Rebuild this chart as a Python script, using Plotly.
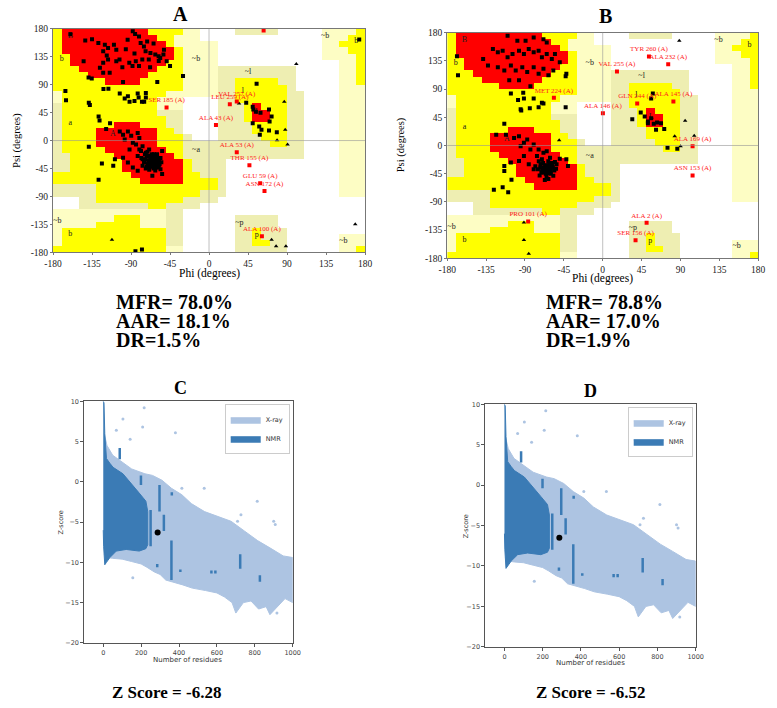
import plotly.graph_objects as go

W, H = 777, 708
def px(x): return x / W
def py(y): return 1 - y / H

# ---------------- Ramachandran background (10 deg cells) ----------------
# rows: psi 180 -> -180 ; columns: phi -180 -> 180
# '.' disallowed, 'P' generous (pale), 'K' generous (beige), 'Y' allowed, 'R' core
region_left = [
    "YRRRRRRRRRRYYYYPP.", "YRRRRRRRRRRRYYPPP.", "YRRRRRRRRRRRRYPPPP", "YRRRRRRRRRRRRRYPPP",
    "YYRRRRRRRRRRRRYPPP", "YYRRRRRRRRRRRYYPPP", "YYYRRRRRRRRRYYYPPP", "YYYYRRRRRRRYYYYPPP",
    "YYYYYYRRRRYYYYYPPP", "YYYYYYYYYYYYYYYPPP", "PYYYYYYYYYYYYPPPPP", "PYYYYYYYYYYYPPP...",
    "KYYYYYYYYYYYPPP...", "KYYYYYYYYYYYKKK...", "KYYYYYYYYYYYYKK...", "KYYYYYYRRRYYYKK...",
    "KYYYYRRRRRRRYYK...", "KYYYYRRRRRRRYYYK..", "KYYYYRRRRRRRYYYKKK", "KYYYYYRRRRRRRYYKKK",
    "KKYYYYYRRRRRRRYKKK", "KKYYYYYYRRRRRRRYKK", "KKYYYYYYRRRRRRRYKK", "YYYYYYYYYRRRRRRYYK",
    "YYYYYYYYYYRRRRRYYY", "KKKKKYYYYYYYYYYYYY", "KKKKKYYYYYYYYYYYYK", "...KKYYYYYYYYYYKKK",
    "...KKKKKKKKYYKKKK.", "PPPPPPPPPPPPPKK...", "PPPPPPPYYYPPPKK...", "PPPPPYYYYYPPPKK...",
    "PYYYYYYYYYYYYKK...", "PYYYYYYYYYYYYKK...", "PYYYYYYYYYYYYKK...", "YYYYYYYYYYYYYPP...",
]
region_right = [
    "...KKKKK.....PPPPY", ".............PPPYY", "P............PPYYY", "P............PPPYY",
    "P............PPPPY", "P..............PPY", "PKKKKKKKKK.....PPY", "PKKKKKKKKK.....PPY",
    "PKKYYYYYKK.....PPY", "PKKYYYYYYK.....PPP", "PKKYYYYYYKK....PPP", ".KKYYYYYYKK....PPP",
    ".KKKYRYYYKK....PPP", ".KKKYRRYYKK....PPP", ".KKKYRRYYKK....PPP", ".KKKKYYYYKK....PPP",
    ".KKKKYYYYKK....PPP", ".KKKKKYYYKK....PPP", "KKKKKKKYYKK....PPP", "KKKKKKKKKKK....PPP",
    "KKKKKKKKKKK....PPP", "KK.............PPP", "KK.............PPP", "KK.............PPP",
    "YK.............PPP", "YK.............PPP", "KK.............PPP", "K.................",
    "..................", "..................", "...KKKKK..........", "...KKKKK..........",
    "...KKYKKK.........", "...KKYKKK......PPP", "...KKYYKK......PPP", "...KKKKKK......PPY",
]
region_code = {'.': 0, 'P': 1, 'K': 2, 'Y': 3, 'R': 4}
phi_centers = [-175 + 10 * i for i in range(36)]
psi_centers = [175 - 10 * i for i in range(36)]
region_z = []
for l, r in zip(region_left, region_right):
    row = (l + r + "." * 36)[:36]
    region_z.append([region_code[c] for c in row])

region_label_text = ["B", "b", "a", "A", "~b", "~l", "l", "L", "~a", "~p", "p", "~b", "b", "~b", "~b", "b"]
region_label_phi = [-160, -170, -160, -111, -15, 45, 39, 56, -15, 35, 55, -175, -160, 155, 134, 170]
region_label_psi = [169, 131, 29, 10, 131, 110, 80, 46, -16, -132, -152, -130, -150, -161, 169, 160]

ram_ticks = [-180, -135, -90, -45, 0, 45, 90, 135, 180]
ram_ticktext = ["-180", "-135", "-90", "-45", "0", "45", "90", "135", "180"]

# ---------------- Panel A residues ----------------
phiA = [-142.8, -127.7, -120.2, -116.5, -122.1, -109.7, -107, -93.9, -85.3, -80.8, -78.9, -75.1, -71.4, -73.2,
        -67.6, -62, -58.2, -52.6, -69.5, -77, -84.5, -88.3, -80.8, -92, -103.3, -107, -116.5, -122.1, -125.9,
        -144.7, -114.6, -122.1, -139, -135.3, -56.3, -48.8, -30, -45, -135, -88, -64, -96, -86, -100, -118,
        -52, -58, -68, -160,
        -165.7, -165, -138.7, -137.5, -121.8, -116.1, -103, -97.3, -93.6, -91.7, -86, -82.3, -81.2, -77.4,
        -72.9, -72.9, -74.8, -99.2, -59.7,
        -127.4, -126.3, -114.2, -118.7, -138.7, -123.6, -127.4, -110.5, -108.6, -103, -99.2, -93.6, -89.8,
        -82.3, -97.3, -87.9, -80.4, -76.7, -72.9, -69.1, -72.9, -67.3, -65.4, -61.6, -63.5, -59.7, -57.9, -56,
        -69.1, -76.7, -82.3, -87.9, -93.6, -99.2, -54.1, -65.4, -54.1, -80.4, -91.7, -82.3, -76.7, -71, -63.5,
        -59.7, -67.3, -61.6, -57.9, -69.1, -78.5, -84.2, -62, -64, -66, -60, -63, -68, -58, -70, -64, -61, -67,
        -59, -72, -65,
        -75, -72, -70, -68, -66, -64, -62, -60, -58, -57, -55, -73, -69, -62, -78, -74, -66, -71, -60, -56,
        54.9, 42.9, 50.4, 51.1, 54.1, 59.4, 69.2, 72.2, 69.9, 50.4, 57.9, 60.5, 69.2, 78.2, 58.6,
        173.3, -84.9, -77.4]
psiA = [161, 156.8, 154.1, 148.8, 143.5, 154, 146, 162, 171.5, 167.3, 156.8, 151.5, 159.4, 143.5,
        140.9, 138.3, 135.6, 138.3, 130.3, 130.3, 127.7, 119.8, 119.8, 125.1, 130.3, 127.7, 130.3, 125.1, 117.1,
        127.7, 109.2, 109.2, 101.3, 99.7, 133, 127.7, 104, 119.8, 163, 176, 156, 147, 140, 118, 137,
        146, 128, 118, 171,
        79.7, 64.9, 60.7, 57, 82.9, 83.4, 75.5, 67.5, 71.2, 62.3, 63.8, 75.5, 69.1, 62.3,
        76.5, 69.1, 62.3, 94, 94,
        38.5, 32.2, 28, 18.4, -10, -37, -62.9, -40.7, -30.1, 14.7, 9.5, 14.7, 7.9,
        12.1, 1.5, -3.7, -14.3, -9, -19.6, -14.3, -30.1, -27.5, -32.8, -35.4, -22.2, -27.5, -40.7, -46,
        -43.3, -40.7, -48.6, -43.3, -35.4, -27.5, -53.9, -56.5, -16.9, 4.2, -14.3, -24.9, -30.1, -38.1, -40.7,
        -43.3, -35.4, -30.1, -32.8, -24.9, -17, -6.4, -40, -38, -42, -38, -33, -30, -36, -37, -45, -43, -40,
        -42, -42, -27,
        -35, -25, -33, -38, -30, -35, -28, -33, -30, -38, -35, -45, -47, -48, -28, -22, -22, -18, -22, -28,
        91.3, 60.7, 54.3, 50.1, 46.4, 44.8, 50.1, 38.5, 30.6, 28, 22.7, 17.4, 16.3, 13.2, 9.5,
        162.6, -178, -175.3]
glyA_phi = [78.5, 87.9, 90.6, 86.8, 100.7, 34.6, 168.7, 77.4, 88.7, 72.2, -112]
glyA_psi = [0.5, 17.4, -6.4, 62.3, 123, 59.6, -134.7, -170, -170, -159.5, -159.5]
outA_name = ["SER 137 (A)", "LEU 259 (A)", "VAL 257 (A)", "SER 185 (A)", "ALA 43 (A)", "ALA 53 (A)",
             "THR 155 (A)", "GLU 59 (A)", "ASN 172 (A)", "ALA 100 (A)"]
outA_phi = [63, 24, 32, -49, 8, 32, 46.6, 59, 64, 61]
outA_psi = [177, 58.6, 63, 53, 25, -19, -39.6, -68.7, -81, -154]

# ---------------- Panel B residues ----------------
phiB = [-110.1, -98.8, -89.3, -79.9, -68.6, -64.8, -127.1, -121.4, -115.8, -110.1, -104.4, -96.9, -91.2, -85.6,
        -79.9, -74.2, -70.4, -64.8, -58.9, -55.3, -49.7, -138.4, -132.8, -121.4, -113.9, -106.3, -100.7, -93.1,
        -87.4, -79.9, -74.2, -68.6, -62.9, -57.2, -108.2, -96.9, -83.7, -42.1, -42.9, -168.7, -167.5,
        -106.3, -92, -98, -91.2, -79.9, -70.4, -95, -94.3, -84.4, -74.2, -68.6, -42.9,
        -113.9, -123.3, -112, -102.6, -96.9, -91.2, -87.4, -79.9, -83.7, -74.2, -68.6, -64.8, -76.1, -70.4, -61,
        -55.3, -59.1, -66.7, -64.8, -72.3, -68.6, -61, -57.2, -62.9, -53.4, -49.7, -42.1, -40.2, -95, -91.2,
        -96.9, -106.3, -113.9, -113.9, -105.6, -115.8, -126, -109.4, -85.6, -79.9, -63, -66, -60, -62, -67, -70,
        -58, -64, -61, -65,
        -75, -72, -70, -68, -66, -64, -62, -60, -58, -56, -54, -73, -69, -65, -78, -74, -63, -71, -59, -67,
        34.2, 44, 48.6, 52.3, 56.1, 58, 56.1, 52.3, 59.1, 62.9, 67.5, 71.2, 61.7, 75, 86.3]
psiB = [174.8, 166.9, 166.9, 172.1, 169.5, 164.3, 153.8, 148.5, 151.1, 140.6, 145.9, 151.1, 145.9, 153.8,
        148.5, 151.1, 140.6, 145.9, 138, 145.9, 132.8, 138, 127.5, 124.9, 119.6, 127.5, 119.6, 124.9,
        117, 124.9, 114.4, 122.3, 111.8, 119.6, 103.9, 103.9, 94.4, 114.4, 110.2, 142.2, 111.8,
        82.9, 84, 72.4, 75, 75, 68.2, 57.7, 55.6, 59.3, 60.8, 67.1, 60.8,
        34.6, 17.3, 17.3, 12, 14.6, 4.2, 9.4, 1.5, -6.4, -6.4, -11.6, -9, -16.9, -22.1, -19.5,
        -26.3, -32.6, -31.6, -37.9, -35.2, -43.1, -43.1, -48.3, -53.6, -30, -21, -22.1, -32.6, -1.1, -16.9,
        -24.7, -27.3, -32.6, -40.5, -54.6, -66.7, -70.4, -74.6, -30, -37.9, -36, -33, -40, -30, -38, -42,
        -35, -44, -28, -40,
        -38, -30, -40, -35, -45, -32, -38, -45, -33, -40, -37, -48, -28, -50, -33, -25, -25, -43, -28, -55,
        41.9, 52.4, 46.1, 38.3, 43.5, 83, 75, 35.6, 34.6, 36.7, 35.6, 26.2, 25.1, -3.7, -5.3]
glyB_phi = [-50.4, 95.4, 105.9, 83.3, 90.1, 88.6, -91.2, -91.2, -85.6]
glyB_psi = [8.3, 39.3, 15.7, 14.6, -1.1, 166.9, -122.9, -150.7, -172.8]
outB_name = ["TYR 260 (A)", "ALA 232 (A)", "VAL 255 (A)", "MET 224 (A)", "GLN 244 (A)", "ALA 145 (A)",
             "ALA 146 (A)", "ALA 169 (A)", "ASN 153 (A)", "PRO 101 (A)", "ALA 2 (A)", "SER 156 (A)"]
outB_phi = [53.5, 75.8, 16.5, -56.5, 39.9, 81.8, 0.2, 104, 104, -86.3, 50.8, 38]
outB_psi = [141.7, 129.6, 118, 76, 67, 70.3, 51.4, -1.1, -47.8, -121.3, -123.4, -151]

statsA = ["MFR= 78.0%", "AAR= 18.1%", "DR=1.5%"]
statsB = ["MFR= 78.8%", "AAR= 17.0%", "DR=1.9%"]

# ---------------- ProSA Z-score reference clouds ----------------
xray_up_n = [5, 20, 50, 100, 150, 220, 260, 310, 360, 415, 465, 535, 605, 675, 745, 815, 880, 950, 1000]
xray_up_z = [6, 4.5, 3.3, 2.4, 1.6, 1.0, 0.8, 0.2, -0.8, -1.6, -2.7, -3.7, -4.3, -4.9, -6.1, -7.3, -8.2, -9.2, -9.4]
xray_lo_n = [1000, 960, 900, 880, 860, 820, 780, 740, 700, 680, 640, 600, 540, 470, 420, 380, 330, 300, 270,
             230, 200, 150, 100, 50, 20, 5]
xray_lo_z = [-15, -14.5, -16, -16.5, -15.5, -15.8, -14.8, -15, -16.3, -15, -14.3, -13.8, -13.5, -13.2, -12.8,
             -12.5, -12.2, -11.5, -11.2, -10.6, -10.2, -9.9, -9.6, -9.5, -9.4, -9]
nmr_up_n = [0, 4, 8, 12, 17, 35, 52, 104, 156, 190, 225, 235]
nmr_up_z = [10, 9.8, 6, 4, 2.9, 2.3, 1.8, 1.0, -0.4, -1.4, -2.4, -3.7]
nmr_lo_n = [235, 225, 190, 121, 69, 35, 17, 8, 2, 0]
nmr_lo_z = [-7.8, -8.3, -8.6, -8.4, -8.6, -9.4, -10, -10.3, -8, -6]
streak_n = [87, 199, 250, 297, 320, 360, 362, 285, 407, 571, 592, 723, 827]
streak_lo = [2.8, -0.4, -8.0, -3.7, -6.1, -12.2, -1.7, -10.6, -11.2, -11.4, -11.4, -10.8, -12.4]
streak_hi = [4.2, 0.8, -3.5, -0.4, -4.1, -7.3, -1.3, -10.2, -10.9, -11.0, -11.0, -9.0, -11.6]
xray_out_n = [216, 104, 208, 381, 142, 69, 415, 533, 813, 900, 908, 156, 917, 640, 727, 709]
xray_out_z = [9.2, 7.8, 6.8, 6.1, 5.3, 6.4, -0.8, -0.8, -2.4, -4.9, -5.3, -11.9, -16.3, -4.9, -4.1, -4.9]
model_residues = [287, 287]
model_z = [-6.28, -6.52]
zscore_text = ["Z Score = -6.28", "Z Score = -6.52"]
zs_xticks = [0, 200, 400, 600, 800, 1000]
zs_yticks = [-20, -15, -10, -5, 0, 5, 10]

# ---------------- colours / styles ----------------
C_WHITE, C_PALE, C_BEIGE, C_YEL, C_RED = "#ffffff", "#fdfdc4", "#eeeeb2", "#ffff00", "#ff0000"
C_XRAY, C_NMR = "#adc4e2", "#3b7bb5"
SERIF = "Liberation Serif"
SANS = "DejaVu Sans"
rscale = [[0, C_WHITE], [0.125, C_WHITE], [0.125, C_PALE], [0.375, C_PALE], [0.375, C_BEIGE],
          [0.625, C_BEIGE], [0.625, C_YEL], [0.875, C_YEL], [0.875, C_RED], [1, C_RED]]

fig = go.Figure()

def rama(ax, phi, psi, gphi, gpsi, oname, ophi, opsi):
    xa, ya = "x" + ax, "y" + ax
    fig.add_trace(go.Heatmap(x=phi_centers, y=psi_centers, z=region_z, colorscale=rscale, zmin=0, zmax=4,
                             showscale=False, hoverinfo="skip", xaxis=xa, yaxis=ya))
    fig.add_trace(go.Scatter(x=region_label_phi, y=region_label_psi, text=region_label_text, mode="text",
                             textfont=dict(family=SERIF, size=8, color="#222"), showlegend=False,
                             xaxis=xa, yaxis=ya))
    fig.add_trace(go.Scatter(x=phi, y=psi, mode="markers", marker=dict(symbol="square", size=4, color="black"),
                             showlegend=False, xaxis=xa, yaxis=ya))
    fig.add_trace(go.Scatter(x=gphi, y=gpsi, mode="markers",
                             marker=dict(symbol="triangle-up", size=4, color="black"),
                             showlegend=False, xaxis=xa, yaxis=ya))
    fig.add_trace(go.Scatter(x=ophi, y=opsi, mode="markers+text", text=oname, textposition="top center",
                             textfont=dict(family=SERIF, size=7, color="#ff2020"),
                             marker=dict(symbol="square", size=4, color="#ff0000"),
                             showlegend=False, xaxis=xa, yaxis=ya))

rama("", phiA, psiA, glyA_phi, glyA_psi, outA_name, outA_phi, outA_psi)
rama("2", phiB, psiB, glyB_phi, glyB_psi, outB_name, outB_phi, outB_psi)

def zpanel(ax, leg, k):
    xa, ya = "x" + ax, "y" + ax
    fig.add_trace(go.Scatter(x=xray_up_n + xray_lo_n, y=xray_up_z + xray_lo_z, fill="toself",
                             fillcolor=C_XRAY, line=dict(color=C_XRAY, width=1), mode="lines",
                             name="X-ray", legend=leg, xaxis=xa, yaxis=ya))
    fig.add_trace(go.Scatter(x=xray_out_n, y=xray_out_z, mode="markers",
                             marker=dict(size=3, color=C_XRAY), showlegend=False, xaxis=xa, yaxis=ya))
    fig.add_trace(go.Scatter(x=nmr_up_n + nmr_lo_n, y=nmr_up_z + nmr_lo_z, fill="toself",
                             fillcolor=C_NMR, line=dict(color=C_NMR, width=1), mode="lines",
                             name="NMR", legend=leg, xaxis=xa, yaxis=ya))
    sx, sy = [], []
    for n, lo, hi in zip(streak_n, streak_lo, streak_hi):
        sx += [n, n, None]
        sy += [lo, hi, None]
    fig.add_trace(go.Scatter(x=sx, y=sy, mode="lines", line=dict(color=C_NMR, width=2.5),
                             showlegend=False, xaxis=xa, yaxis=ya))
    fig.add_trace(go.Scatter(x=[model_residues[k]], y=[model_z[k]], mode="markers",
                             marker=dict(size=6, color="black"), showlegend=False, xaxis=xa, yaxis=ya))

zpanel("3", "legend", 0)
zpanel("4", "legend2", 1)

def rama_axes(xd, yd, n):
    ax = dict(range=[-180, 180], tickvals=ram_ticks, ticktext=ram_ticktext, showgrid=False, zeroline=False,
              showline=True, mirror=True, linecolor="#777", linewidth=1, ticks="outside", ticklen=2,
              tickcolor="#777", tickfont=dict(family=SERIF, size=9.5, color="#222"))
    return dict(ax, domain=xd, anchor="y" + n), dict(ax, domain=yd, anchor="x" + n)

def z_axes(xd, yd, n):
    base = dict(showgrid=False, zeroline=False, showline=True, mirror=True, linecolor="#555", linewidth=1,
                ticks="outside", ticklen=3, tickcolor="#555", tickfont=dict(family=SANS, size=6.5, color="#444"))
    return (dict(base, domain=xd, range=[-100, 1000], tickvals=zs_xticks, anchor="y" + n),
            dict(base, domain=yd, range=[-20, 10], tickvals=zs_yticks, anchor="x" + n))

xa1, ya1 = rama_axes([px(45), px(364)], [py(251), py(24)], "")
xa2, ya2 = rama_axes([px(448), px(766)], [py(257), py(28)], "2")
xa3, ya3 = z_axes([px(77), px(290)], [py(647), py(402)], "3")
xa4, ya4 = z_axes([px(487), px(702)], [py(651), py(405)], "4")

ann = []
def txt(t, x, y, size, family=SERIF, bold=False, xanchor="center", angle=0, color="black"):
    ann.append(dict(text=("<b>%s</b>" % t) if bold else t, x=px(x), y=py(y), xref="paper", yref="paper",
                    showarrow=False, xanchor=xanchor, yanchor="middle", textangle=angle,
                    font=dict(family=family, size=size, color=color)))

txt("A", 175, 9, 20, bold=True)
txt("B", 610, 11, 20, bold=True)
txt("C", 175, 388, 18, bold=True)
txt("D", 595, 392, 18, bold=True)
txt("Phi (degrees)", 205, 272, 11.5)
txt("Phi (degrees)", 607, 277, 11.5)
txt("Psi (degrees)", 8, 137, 10.5, angle=-90)
txt("Psi (degrees)", 401, 142, 10.5, angle=-90)
for i, s in enumerate(statsA):
    txt(s, 107, 301 + 19.5 * i, 20, bold=True, xanchor="left")
for i, s in enumerate(statsB):
    txt(s, 547, 301 + 19.5 * i, 20, bold=True, xanchor="left")
txt("Z-score", 53, 525, 6.5, family=SANS, angle=-90, color="#333")
txt("Z-score", 467, 529, 6.5, family=SANS, angle=-90, color="#333")
txt("Number of residues", 182, 664, 7, family=SANS, color="#333")
txt("Number of residues", 594, 667, 7, family=SANS, color="#333")
txt(zscore_text[0], 161, 697, 17, bold=True)
txt(zscore_text[1], 595, 697, 17, bold=True)

shapes = []
for xr, yr in [("x", "y"), ("x2", "y2")]:
    shapes.append(dict(type="line", xref=xr, yref=yr + " domain", x0=0, x1=0, y0=0, y1=1,
                       line=dict(color="rgba(150,150,150,0.6)", width=1), layer="above"))
    shapes.append(dict(type="line", xref=xr + " domain", yref=yr, x0=0, x1=1, y0=0, y1=0,
                       line=dict(color="rgba(150,150,150,0.6)", width=1), layer="above"))

legstyle = dict(xanchor="right", yanchor="top", bgcolor="white", bordercolor="#cccccc", borderwidth=1,
                font=dict(family=SANS, size=6.5, color="#333"), itemwidth=30, tracegroupgap=0,
                traceorder="normal")

fig.update_layout(
    width=W, height=H, margin=dict(l=0, r=0, t=0, b=0), paper_bgcolor="white", plot_bgcolor="white",
    xaxis=xa1, yaxis=ya1, xaxis2=xa2, yaxis2=ya2, xaxis3=xa3, yaxis3=ya3, xaxis4=xa4, yaxis4=ya4,
    annotations=ann, shapes=shapes,
    legend=dict(legstyle, x=px(287), y=py(405)),
    legend2=dict(legstyle, x=px(699), y=py(408)),
)

# remove the default 8px page margin so the 777x708 figure fills the window exactly
fig.write_html("out.html", config={"displayModeBar": False},
               post_script="document.body.style.margin='0';document.body.style.padding='0';")
